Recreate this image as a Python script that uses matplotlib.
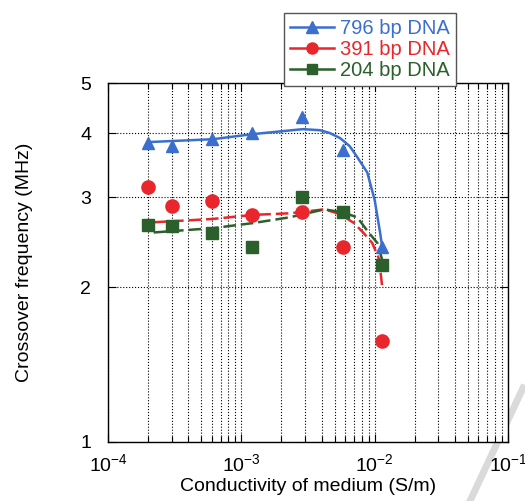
import numpy as np
import matplotlib
matplotlib.use("Agg")
import matplotlib.pyplot as plt
from matplotlib.ticker import FixedLocator, FixedFormatter, NullLocator, LogLocator, NullFormatter
from matplotlib.lines import Line2D

plt.rcParams["font.family"] = ["Liberation Sans", "DejaVu Sans"]
plt.rcParams["font.size"] = 13
plt.rcParams["mathtext.fontset"] = "custom"
plt.rcParams["mathtext.rm"] = "Liberation Sans"
plt.rcParams["mathtext.it"] = "Liberation Sans"

# measured points (S/m, MHz)
cond = [2.0e-4, 3.0e-4, 6.0e-4, 1.2e-3, 2.85e-3, 5.8e-3, 1.14e-2]
f796 = [3.82, 3.77, 3.89, 4.00, 4.29, 3.70, 2.40]
f391 = [3.14, 2.88, 2.95, 2.77, 2.81, 2.40, 1.57]
f204 = [2.65, 2.64, 2.55, 2.40, 3.00, 2.80, 2.21]

# fitted curves
fit796_x = [2.0e-4, 6.1e-4, 1.22e-3, 2.9e-3, 3.9e-3, 4.6e-3, 5.5e-3, 6.5e-3, 7.4e-3, 8.8e-3, 1.0e-2, 1.1e-2, 1.14e-2]
fit796_y = [3.84, 3.89, 3.98, 4.07, 4.05, 4.00, 3.91, 3.77, 3.59, 3.35, 2.96, 2.55, 2.39]
fit391_x = [2.2e-4, 6.1e-4, 1.22e-3, 2.3e-3, 4.2e-3, 5.5e-3, 7.0e-3, 8.3e-3, 9.6e-3, 1.08e-2, 1.14e-2]
fit391_y = [2.68, 2.72, 2.77, 2.79, 2.84, 2.78, 2.67, 2.55, 2.44, 2.27, 2.00]
fit204_x = [2.2e-4, 6.1e-4, 1.22e-3, 2.3e-3, 4.2e-3, 5.8e-3, 7.4e-3, 9.0e-3, 1.05e-2, 1.14e-2]
fit204_y = [2.56, 2.61, 2.67, 2.74, 2.84, 2.80, 2.74, 2.56, 2.44, 2.26]

blue = "#3b6fce"
red = "#e8262b"
green = "#2b5f2b"

fig = plt.figure(figsize=(5.25, 5.01), dpi=100)
ax = fig.add_axes([0.2057, 0.1178, 0.762, 0.716])

ax.plot(fit796_x, fit796_y, "-", color=blue, lw=1.8)
ax.plot(fit391_x, fit391_y, "--", color=red, lw=1.8, dashes=(5, 2))
ax.plot(fit204_x, fit204_y, "--", color=green, lw=1.8, dashes=(5, 2))

ax.plot(cond, f796, "^", color=blue, ms=9, ls="none")
ax.plot(cond, f391, "o", color=red, ms=9.5, ls="none")
ax.plot(cond, f204, "s", color=green, ms=8.5, ls="none")

ax.set_xscale("log")
ax.set_yscale("log")
ax.set_xlim(1e-4, 1e-1)
ax.set_ylim(1, 5)

ax.yaxis.set_major_locator(FixedLocator([1, 2, 3, 4, 5]))
ax.yaxis.set_minor_locator(NullLocator())
ax.yaxis.set_major_formatter(FixedFormatter(["1", "2", "3", "4", "5"]))
ax.xaxis.set_minor_locator(LogLocator(base=10, subs=np.arange(2, 10)))
ax.xaxis.set_minor_formatter(NullFormatter())

ax.grid(True, which="both", axis="x", color="black", ls=":", lw=0.8)
ax.grid(True, which="major", axis="y", color="black", ls=":", lw=0.8)
ax.tick_params(which="both", direction="in", top=True, right=True, length=4, width=0.8)
ax.tick_params(which="major", length=6, labelsize=14)
ax.tick_params(axis="x", which="major", pad=8)
ax.tick_params(axis="y", which="major", pad=12)
for s in ax.spines.values():
    s.set_linewidth(1.0)

ax.set_xlabel("Conductivity of medium (S/m)", fontsize=14, labelpad=2)
ax.set_ylabel("Crossover frequency (MHz)", fontsize=14, labelpad=34)

handles = [
    Line2D([], [], color=blue, marker="^", ms=8, lw=1.8),
    Line2D([], [], color=red, marker="o", ms=8, lw=1.8),
    Line2D([], [], color=green, marker="s", ms=7, lw=1.8),
]
leg = fig.legend(handles, ["796 bp DNA", "391 bp DNA", "204 bp DNA"],
                 loc="upper left", bbox_to_anchor=(284 / 525, 1 - 13 / 501),
                 borderaxespad=0,
                 fancybox=False, edgecolor="#555555", framealpha=1,
                 handlelength=2.2, handletextpad=0.3, labelspacing=0.1,
                 borderpad=0.3, fontsize=14.5)
leg.get_frame().set_linewidth(1.0)
for t, c in zip(leg.get_texts(), [blue, red, green]):
    t.set_color(c)

# light grey diagonal stroke at the lower right
fig.add_artist(Line2D([523 / 525, 470 / 525], [1 - 388 / 501, 0.0],
                      transform=fig.transFigure, color="#dadada", lw=5, zorder=0))

fig.savefig("out.png", dpi=100)
